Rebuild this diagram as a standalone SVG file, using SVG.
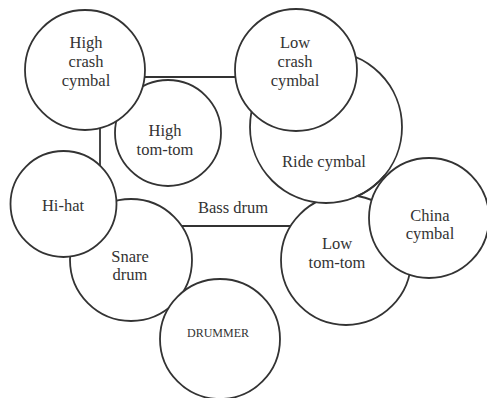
<svg xmlns="http://www.w3.org/2000/svg" width="487" height="398" viewBox="0 0 487 398">
<style>
.c{fill:#fff;stroke:#333;stroke-width:1.8}
.o{fill:none;stroke:#333;stroke-width:1.8}
.l{stroke:#333;stroke-width:1.8;fill:none}
text{font-family:"Liberation Serif","Times New Roman",serif;font-size:16.5px;fill:#333;text-anchor:middle}
.s{font-size:12px}
</style>
<rect width="487" height="398" fill="#fff"/>
<g id="connectors">
<line class="l" x1="140" y1="77" x2="240" y2="77"/>
<line class="l" x1="100" y1="125" x2="100" y2="170"/>
<line class="l" x1="178" y1="226" x2="292" y2="226"/>
</g>
<g id="high-tom-tom"><circle class="c" cx="168" cy="133" r="53"/><text x="165" y="136">High</text><text x="165" y="155">tom-tom</text></g>
<g id="high-crash-cymbal"><circle class="c" cx="85" cy="70" r="60"/><text x="86" y="48">High</text><text x="86" y="67">crash</text><text x="86" y="86">cymbal</text></g>
<g id="low-tom-tom"><circle class="c" cx="346" cy="260" r="65"/><text x="337" y="249">Low</text><text x="337" y="268">tom-tom</text></g>
<g id="ride-cymbal"><circle id="ride" class="c" cx="326" cy="127" r="76"/><text x="324" y="167">Ride cymbal</text></g>
<g id="china-cymbal"><circle class="c" cx="429" cy="218" r="60"/><text x="430" y="221">China</text><text x="430" y="239">cymbal</text></g>
<path class="o" d="M 355 197 A 76 76 0 0 0 385 175"/>
<g id="low-crash-cymbal"><circle class="c" cx="296" cy="70" r="61"/><text x="295" y="48">Low</text><text x="295" y="67">crash</text><text x="295" y="86">cymbal</text></g>
<g id="snare-drum"><circle class="c" cx="131" cy="260" r="61"/><text x="130" y="262">Snare</text><text x="130" y="280">drum</text></g>
<g id="hi-hat"><circle class="c" cx="63.5" cy="204" r="53"/><text x="63" y="211">Hi-hat</text></g>
<g id="drummer"><circle class="c" cx="220" cy="339" r="60"/><text class="s" x="218" y="337">DRUMMER</text></g>
<g id="bass-drum"><text x="233" y="213">Bass drum</text></g>
</svg>
